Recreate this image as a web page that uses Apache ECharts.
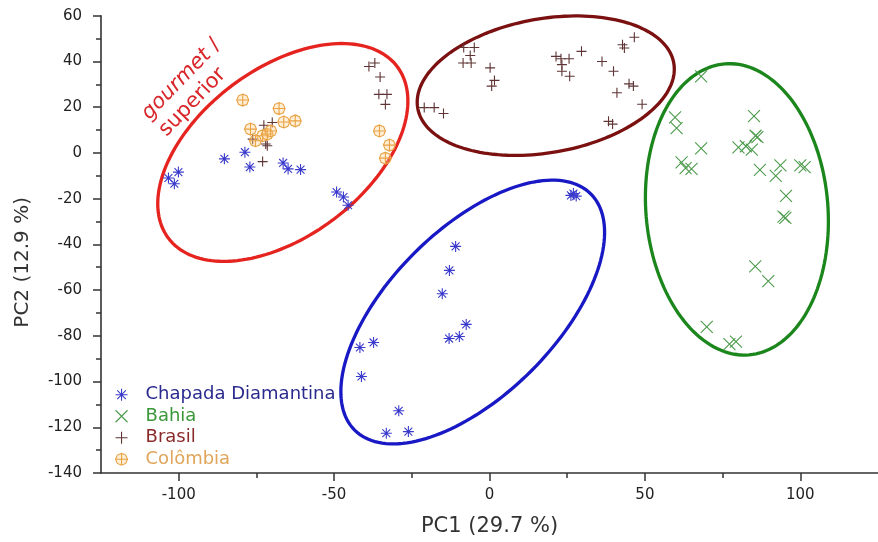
<!DOCTYPE html>
<html>
<head>
<meta charset="utf-8">
<script src="https://cdn.jsdelivr.net/npm/echarts@6/dist/echarts.min.js"></script>
<style>
html,body{margin:0;padding:0;background:#fff;}
#chart{width:878px;height:542px;}
</style>
</head>
<body>
<div id="chart"></div>
<script>
// ---- data (PC1, PC2) ----
const seriesNames = ['Chapada Diamantina', 'Bahia', 'Brasil', 'Colômbia'];

const chapada = [
  [-100.1,-8.4],[-103.3,-11],[-101.4,-13.5],[-85.3,-2.6],[-78.7,0.3],[-77.1,-6.2],
  [-66.4,-4.4],[-64.8,-7],[-60.8,-7.3],[-49.2,-17.1],[-47,-19.3],[-45.5,-22.9],
  [26.2,-18.6],[27.9,-18.9],[27,-17.8],[-10.9,-40.9],[-12.9,-51.4],[-15.2,-61.6],
  [-7.5,-75],[-13,-81.2],[-9.7,-80.3],[-41.7,-85.1],[-37.3,-82.9],[-41.2,-97.8],
  [-29.2,-112.8],[-33.2,-122.6],[-26.1,-121.9]
];

const bahia = [
  [68.1,33.5],[59.7,15.5],[60.2,10.8],[68.1,2],[61.8,-4.1],[63.1,-6.7],[65,-7],
  [85.1,16.1],[85.6,7.5],[86.2,6.9],[80.1,2.4],[82.5,2.9],[84.4,1.4],[87,-7.4],
  [93.6,-5.5],[92.1,-10.1],[100,-5.5],[101.4,-6.2],[95.4,-18.8],[94.6,-27.9],
  [95.2,-28.4],[85.5,-49.6],[89.7,-56.1],[69.9,-76.1],[77.2,-83.6],[79.3,-82.5]
];

const brasil = [
  [-8.3,46.1],[-4.9,46.1],[-6.2,42.6],[-8.5,39.3],[-5.9,39.3],[0.2,37.2],[1.6,31.7],
  [0.7,29.2],[-21,19.8],[-17.8,19.8],[-14.8,17.2],[21.4,42.2],[23,41.2],[25.6,41.2],
  [23.3,38.6],[23.3,35.7],[25.8,33.5],[29.6,44.4],[36.2,40],[39.9,35.7],[42.8,47.3],
  [43.4,45.9],[46.6,50.6],[44.9,30.2],[46.3,29.2],[41,26.3],[49.1,21.3],[38.3,13.8],
  [39.6,12.6],
  [-38.8,37.8],[-36.9,39.3],[-35.2,33.2],[-35.6,25.6],[-33,25.6],[-33.5,21.2],
  [-72.6,12.1],[-69.9,13.3],[-76.2,6],[-72,3.9],[-71.5,3.1],[-73,-3.8]
];

const colombia = [
  [-79.4,23.1],[-67.7,19.4],[-66.2,13.5],[-62.5,14],[-76.9,10.4],[-73,7.5],
  [-71.5,8.2],[-70.4,9.6],[-75.3,5.3],[-35.4,9.6],[-32.2,3.4],[-33.5,-2.3]
];

const xTickValues = [-100, -50, 0, 50, 100];
const xMinorTickValues = [-75, -25, 25, 75];

// group ellipses (annotation): centre in data units
const ellipseCentres = [[-66.5, 0.2], [18.1, 29.4], [79.6, -24.7], [-5.4, -69.6]];
// shape/style of each ellipse (pixels, degrees)
const ellipseShapes = [
  {a: 143, b: 84, rot: 36.8, color: '#e5231f'},
  {a: 130, b: 67, rot: 10, color: '#7a1010'},
  {a: 146, b: 91, rot: -85.2, color: '#1b861b'},
  {a: 167, b: 83, rot: 45, color: '#1818c4'}
];

const colors = ['#3a3acc', '#4c9a4c', '#5e3434', '#e9a244'];
const textColors = ['#2b2b8f', '#3a983a', '#8b2a2a', '#e0a55a'];
const symbols = [
  'path://M0,-6L0,6M-6,0L6,0M-4.3,-4.3L4.3,4.3M-4.3,4.3L4.3,-4.3',
  'path://M-5,-5L5,5M-5,5L5,-5',
  'path://M0,-5L0,5M-5,0L5,0',
  'path://M0,-6L4.2,-4.2L6,0L4.2,4.2L0,6L-4.2,4.2L-6,0L-4.2,-4.2ZM0,-6L0,6M-6,0L6,0'
];
const sizes = [11, 12, 10, 12];
const datasets = [chapada, bahia, brasil, colombia];

const FONT = 'DejaVu Sans';

const chart = echarts.init(document.getElementById('chart'), null, {renderer: 'canvas'});

const scatterSeries = seriesNames.map((name, i) => ({
  name: name,
  type: 'scatter',
  xAxisIndex: 0,
  yAxisIndex: 0,
  data: datasets[i],
  symbol: symbols[i],
  symbolSize: sizes[i],
  symbolKeepAspect: true,
  z: 3,
  itemStyle: {
    color: i === 3 ? 'rgba(255,210,140,0.35)' : 'rgba(0,0,0,0)',
    borderColor: colors[i],
    borderWidth: 1.1,
    opacity: 1
  },
  emphasis: {disabled: true}
}));

const ellipseSeries = {
  type: 'custom',
  xAxisIndex: 0,
  yAxisIndex: 0,
  silent: true,
  z: 2,
  clip: false,
  data: ellipseCentres,
  renderItem: function (params, api) {
    const e = ellipseShapes[params.dataIndex];
    const c = api.coord([api.value(0), api.value(1)]);
    const th = e.rot * Math.PI / 180;
    const ct = Math.cos(th), st = Math.sin(th);
    const pts = [];
    const N = 160;
    for (let k = 0; k < N; k++) {
      const t = 2 * Math.PI * k / N;
      const u = e.a * Math.cos(t), v = e.b * Math.sin(t);
      pts.push([c[0] + u * ct + v * st, c[1] - u * st + v * ct]);
    }
    return {
      type: 'polygon',
      shape: {points: pts},
      style: {fill: 'none', stroke: e.color, lineWidth: 3.3}
    };
  }
};

const option = {
  backgroundColor: '#ffffff',
  animation: false,
  grid: {left: 101, top: 15.7, width: 786.75, height: 461, containLabel: false},
  legend: {
    orient: 'vertical',
    left: 115,
    top: 384,
    padding: 0,
    itemGap: 0,
    itemWidth: 12,
    itemHeight: 12,
    selectedMode: false,
    data: seriesNames.map((n, i) => ({
      name: n,
      icon: symbols[i],
      itemStyle: {color: i === 3 ? 'rgba(255,210,140,0.35)' : 'rgba(0,0,0,0)', borderColor: colors[i], borderWidth: 1.1},
      textStyle: {color: textColors[i]}
    })),
    textStyle: {fontFamily: FONT, fontSize: 18, lineHeight: 21.5, padding: [0, 0, 0, 13]}
  },
  xAxis: [{
    type: 'value',
    min: -125, max: 125, interval: 25,
    position: 'bottom',
    name: 'PC1 (29.7 %)',
    nameLocation: 'middle',
    nameGap: 43,
    nameTextStyle: {fontFamily: FONT, fontSize: 21, color: '#333'},
    axisLine: {show: true, onZero: false, lineStyle: {color: '#333', width: 1.6}},
    axisTick: {show: true, inside: false, length: 8, customValues: xTickValues, lineStyle: {color: '#333', width: 1.5}},
    axisLabel: {show: true, customValues: xTickValues, margin: 15, fontFamily: FONT, fontSize: 15, color: '#222'},
    splitLine: {show: false}
  }, {
    type: 'value',
    min: -125, max: 125, interval: 25,
    position: 'bottom',
    axisLine: {show: false, onZero: false},
    axisTick: {show: true, inside: false, length: 5, customValues: xMinorTickValues, lineStyle: {color: '#333', width: 1.5}},
    axisLabel: {show: false},
    splitLine: {show: false}
  }],
  yAxis: [{
    type: 'value',
    min: -140, max: 60, interval: 20,
    position: 'left',
    name: 'PC2 (12.9 %)',
    nameLocation: 'middle',
    nameGap: 68,
    nameRotate: 90,
    nameTextStyle: {fontFamily: FONT, fontSize: 20, color: '#333', padding: [0, 36, 0, 0]},
    axisLine: {show: true, onZero: false, lineStyle: {color: '#333', width: 1.6}},
    axisTick: {show: true, inside: false, length: 8, lineStyle: {color: '#333', width: 1.5}},
    minorTick: {show: true, splitNumber: 2, length: 5, lineStyle: {color: '#333', width: 1.5}},
    axisLabel: {show: true, margin: 19, fontFamily: FONT, fontSize: 15, color: '#222'},
    splitLine: {show: false},
    minorSplitLine: {show: false}
  }],
  graphic: [{
    type: 'text',
    x: 154,
    y: 125,
    rotation: 46 * Math.PI / 180,
    silent: true,
    z: 10,
    style: {
      text: '{i|gourmet} /\nsuperior',
      fill: '#d8262a',
      fontFamily: FONT,
      fontSize: 21,
      lineHeight: 24,
      align: 'left',
      verticalAlign: 'middle',
      rich: {
        i: {fontStyle: 'italic', fontFamily: FONT, fontSize: 21, fill: '#d8262a', lineHeight: 24}
      }
    }
  }],
  series: [ellipseSeries].concat(scatterSeries)
};

chart.setOption(option);
</script>
</body>
</html>
